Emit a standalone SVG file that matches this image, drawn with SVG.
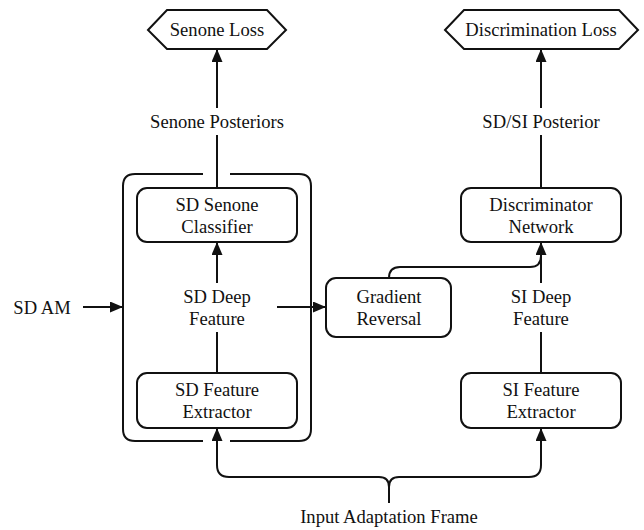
<svg xmlns="http://www.w3.org/2000/svg" width="644" height="530" viewBox="0 0 644 530">
<defs>
<marker id="arr" markerUnits="userSpaceOnUse" markerWidth="14" markerHeight="12" refX="13" refY="5.5" orient="auto">
<path d="M0,0 L13,5.5 L0,11 z" fill="#111"/>
</marker>
<style>
text{font-size:18.6px;fill:#111;text-anchor:middle}
.box{fill:#fff;stroke:#111;stroke-width:2}
.ln{fill:none;stroke:#111;stroke-width:2}
.ar{fill:none;stroke:#111;stroke-width:2;marker-end:url(#arr)}
</style>
</defs>
<rect width="644" height="530" fill="#fff"/>
<g font-family="Liberation Serif, Times New Roman, serif">
<g id="container">
<path class="ln" d="M203,174 L135,174 Q123,174 123,186 L123,429 Q123,441 135,441 L203,441 M230,441 L299,441 Q311,441 311,429 L311,186 Q311,174 299,174 L230,174"/>
</g>
<g id="connectors">
<path class="ar" d="M217,108 L217,49"/>
<path class="ln" d="M217,135 L217,188"/>
<path class="ar" d="M541,108 L541,49"/>
<path class="ln" d="M541,135 L541,188"/>
<path class="ar" d="M217,283 L217,242"/>
<path class="ln" d="M217,332 L217,373"/>
<path class="ar" d="M83,307 L123,307"/>
<path class="ar" d="M277,307 L326,307"/>
<path class="ln" d="M389,278 Q389,267 400,267 L530,267 Q541,267 541,256"/>
<path class="ar" d="M541,283 L541,242"/>
<path class="ln" d="M541,332 L541,373"/>
<path class="ar" d="M389,503 L389,487 Q389,477 379,477 L229,477 Q217,477 217,465 L217,428"/>
<path class="ar" d="M389,503 L389,487 Q389,477 399,477 L529,477 Q541,477 541,465 L541,428"/>
</g>
<g id="senone-loss">
<polygon class="box" points="148,30 167,10 267,10 286,30 267,49 167,49"/>
<text x="217" y="36">Senone Loss</text>
</g>
<g id="discrimination-loss">
<polygon class="box" points="445,30 464,10 619,10 638,30 619,49 464,49"/>
<text x="541" y="36">Discrimination Loss</text>
</g>
<g id="senone-posteriors"><text x="217" y="128">Senone Posteriors</text></g>
<g id="sdsi-posterior"><text x="541" y="128">SD/SI Posterior</text></g>
<g id="sd-senone-classifier">
<rect class="box" x="137" y="188" width="160" height="54" rx="10"/>
<text x="217" y="211">SD Senone</text>
<text x="217" y="233">Classifier</text>
</g>
<g id="discriminator-network">
<rect class="box" x="461" y="188" width="160" height="54" rx="10"/>
<text x="541" y="211">Discriminator</text>
<text x="541" y="233">Network</text>
</g>
<g id="sd-am"><text x="42" y="314">SD AM</text></g>
<g id="sd-deep-feature">
<text x="217" y="303">SD Deep</text>
<text x="217" y="325">Feature</text>
</g>
<g id="gradient-reversal">
<rect class="box" x="326" y="278" width="125" height="59" rx="10"/>
<text x="389" y="303">Gradient</text>
<text x="389" y="325">Reversal</text>
</g>
<g id="si-deep-feature">
<text x="541" y="303">SI Deep</text>
<text x="541" y="325">Feature</text>
</g>
<g id="sd-feature-extractor">
<rect class="box" x="137" y="373" width="160" height="55" rx="10"/>
<text x="217" y="396">SD Feature</text>
<text x="217" y="418">Extractor</text>
</g>
<g id="si-feature-extractor">
<rect class="box" x="461" y="373" width="160" height="55" rx="10"/>
<text x="541" y="396">SI Feature</text>
<text x="541" y="418">Extractor</text>
</g>
<g id="input-frame"><text x="389" y="523">Input Adaptation Frame</text></g>
</g>
</svg>
